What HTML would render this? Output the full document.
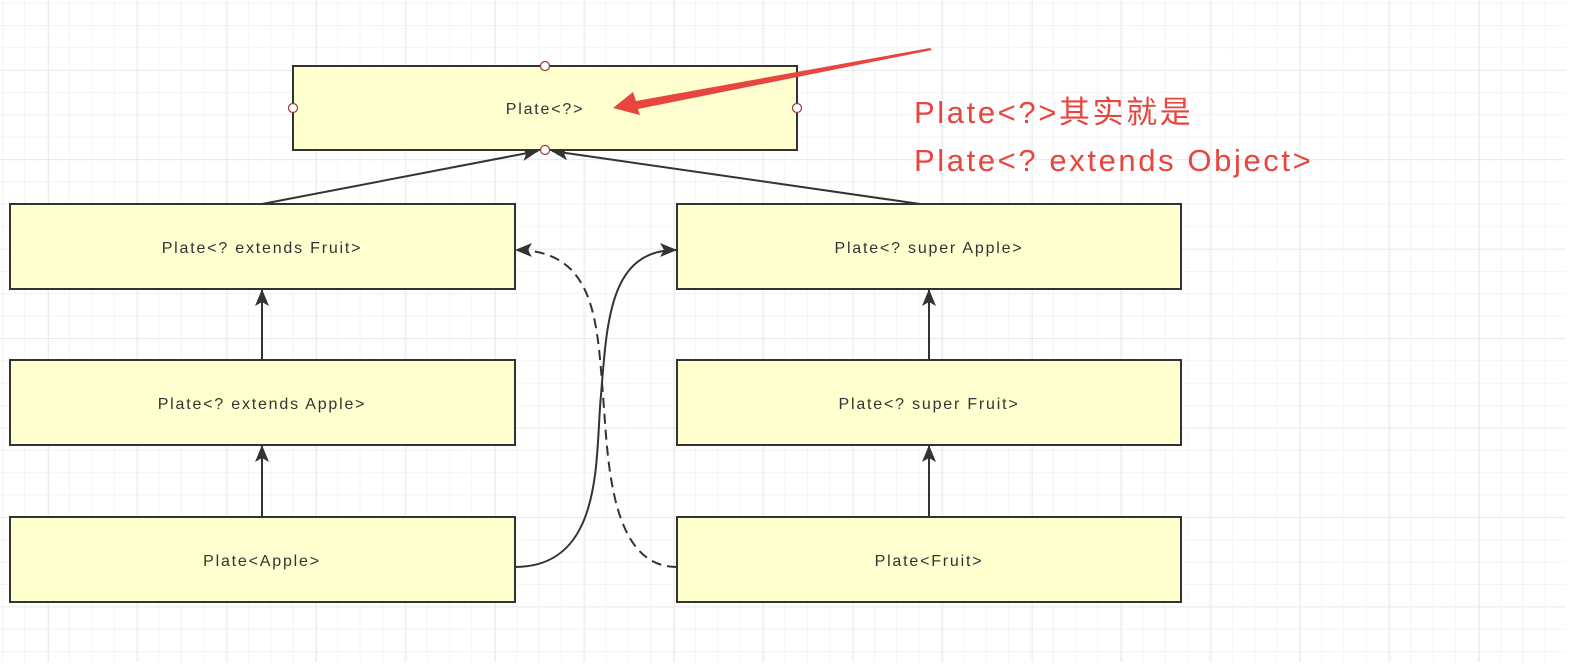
<!DOCTYPE html>
<html><head><meta charset="utf-8"><style>
html,body{margin:0;padding:0;background:#fff;}
svg{display:block;}
text{font-family:"Liberation Sans","Noto Sans CJK SC",sans-serif;}
</style></head><body>
<svg width="1586" height="670" viewBox="0 0 1586 670">
<defs>
<pattern id="minor" x="2" y="2.7" width="22.36" height="22.36" patternUnits="userSpaceOnUse">
<path d="M0 0V22.36M0 0H22.36" stroke="#eeeeee" stroke-width="1.2" fill="none"/>
</pattern>
<pattern id="major" x="48" y="70" width="89.44" height="89.44" patternUnits="userSpaceOnUse">
<path d="M0 0V89.44M0 0H89.44" stroke="#e2e2e2" stroke-width="1.3" fill="none"/>
</pattern>
<marker id="ah" markerWidth="18" markerHeight="14" refX="16" refY="7" orient="auto" markerUnits="userSpaceOnUse">
<path d="M0 0L17 7L0 14L4 7Z" fill="#333"/>
</marker>
</defs>
<rect x="0" y="0" width="1566" height="662" fill="url(#minor)"/>
<rect x="0" y="0" width="1566" height="662" fill="url(#major)"/>

<g stroke="#333" stroke-width="2" fill="none">
<line x1="262" y1="204" x2="538" y2="151" marker-end="url(#ah)"/>
<line x1="920" y1="204" x2="552" y2="151" marker-end="url(#ah)"/>
<line x1="262" y1="360" x2="262" y2="290" marker-end="url(#ah)"/>
<line x1="262" y1="517" x2="262" y2="446" marker-end="url(#ah)"/>
<line x1="929" y1="360" x2="929" y2="290" marker-end="url(#ah)"/>
<line x1="929" y1="517" x2="929" y2="446" marker-end="url(#ah)"/>
<path d="M515 567 C605 567 595 455 601 395 C607 320 610 250 676 250" marker-end="url(#ah)"/>
<path d="M677 567 C610 567 608 460 603 395 C597 320 595 250 516 250" stroke-dasharray="10 6" marker-end="url(#ah)"/>
</g>

<g stroke="#333" stroke-width="2" fill="#ffffd0">
<rect x="293" y="66" width="504" height="84"/>
<rect x="10" y="204" width="505" height="85"/>
<rect x="677" y="204" width="504" height="85"/>
<rect x="10" y="360" width="505" height="85"/>
<rect x="677" y="360" width="504" height="85"/>
<rect x="10" y="517" width="505" height="85"/>
<rect x="677" y="517" width="504" height="85"/>
</g>
<g font-size="16" fill="#333" text-anchor="middle" letter-spacing="1.8">
<text x="545" y="114">Plate&lt;?&gt;</text>
<text x="262" y="253">Plate&lt;? extends Fruit&gt;</text>
<text x="929" y="253">Plate&lt;? super Apple&gt;</text>
<text x="262" y="409">Plate&lt;? extends Apple&gt;</text>
<text x="929" y="409">Plate&lt;? super Fruit&gt;</text>
<text x="262" y="566">Plate&lt;Apple&gt;</text>
<text x="929" y="566">Plate&lt;Fruit&gt;</text>
</g>
<g fill="#fff" stroke="#9a3a3a" stroke-width="1.2">
<circle cx="545" cy="66" r="4.5"/>
<circle cx="293" cy="108" r="4.5"/>
<circle cx="797" cy="108" r="4.5"/>
<circle cx="545" cy="150" r="4.5"/>
</g>
<path d="M930 48 L932 50 L638 109 L640 115 L613 108 L633 92 L636 101 Z" fill="#e8453f"/>
<g font-size="31" fill="#e8453f" letter-spacing="2.6">
<text x="914" y="123">Plate&lt;?&gt;其实就是</text>
<text x="914" y="171">Plate&lt;? extends Object&gt;</text>
</g>
</svg>
</body></html>
